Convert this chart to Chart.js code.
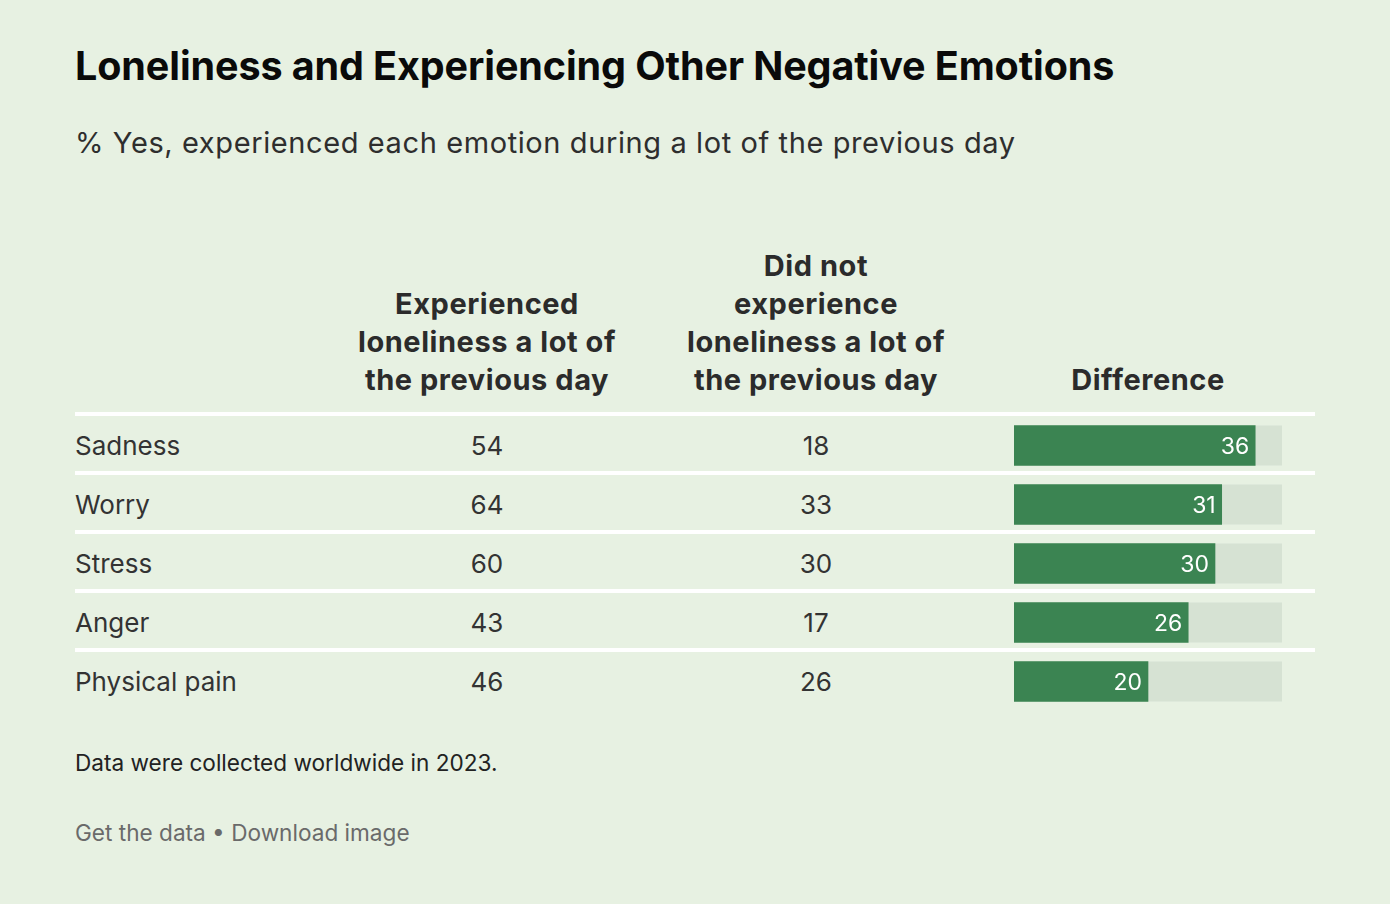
<!DOCTYPE html>
<html>
<head>
<meta charset="utf-8">
<script src="https://cdn.jsdelivr.net/npm/chart.js@4"></script>
<style>
  html, body { margin: 0; padding: 0; }
  body { width: 1390px; height: 904px; background: #e7f1e2; font-family: Inter, "Noto Sans", sans-serif; position: relative; overflow: hidden; color: #2b2b2b; }
  .abs { position: absolute; }
  #title { left: 75px; top: 42px; font-size: 39.5px; font-weight: 700; color: #0a0a0a; letter-spacing: -0.1px; }
  #subtitle { left: 75px; top: 125px; font-size: 29px; color: #2e2e2e; letter-spacing: 0.6px; }
  .head { font-size: 29px; font-weight: 700; line-height: 38px; text-align: center; color: #2b2b2b; width: 320px; bottom: 505px; letter-spacing: 0.55px; }
  .sep { left: 75px; width: 1240px; height: 4px; background: #ffffff; }
  .cell { font-size: 26px; color: #333; line-height: 59px; height: 59px; }
  .num { width: 200px; text-align: center; }
  #note { left: 75px; top: 749px; font-size: 22.6px; color: #222; }
  #links { left: 75px; top: 819px; font-size: 22.6px; color: #6a6a6a; }
  #diffWrap { left: 1014px; top: 416px; width: 268px; height: 295px; }
</style>
</head>
<body>
<div id="title" class="abs">Loneliness and Experiencing Other Negative Emotions</div>
<div id="subtitle" class="abs">% Yes, experienced each emotion during a lot of the previous day</div>

<div class="abs head" style="left:327px;">Experienced<br>loneliness a lot of<br>the previous day</div>
<div class="abs head" style="left:656px;">Did not<br>experience<br>loneliness a lot of<br>the previous day</div>
<div class="abs head" style="left:988px;">Difference</div>

<div id="rows"></div>
<div id="diffWrap" class="abs"><canvas id="diff"></canvas></div>

<div id="note" class="abs">Data were collected worldwide in 2023.</div>
<div id="links" class="abs">Get the data • Download image</div>

<script>
const emotions = ['Sadness', 'Worry', 'Stress', 'Anger', 'Physical pain'];
const lonely = [54, 64, 60, 43, 46];
const notLonely = [18, 33, 30, 17, 26];
const difference = [36, 31, 30, 26, 20];
const diffMax = 40;

// table rows (text columns)
const rows = document.getElementById('rows');
const rowTop = 416, rowH = 59;
emotions.forEach((name, i) => {
  const y = rowTop + i * rowH;
  rows.insertAdjacentHTML('beforeend',
    `<div class="abs sep" style="top:${y - 4}px"></div>` +
    `<div class="abs cell" style="left:75px;top:${y}px">${name}</div>` +
    `<div class="abs cell num" style="left:387px;top:${y}px">${lonely[i]}</div>` +
    `<div class="abs cell num" style="left:716px;top:${y}px">${notLonely[i]}</div>`);
});

// grey track behind each bar + white value inside the bar end
const trackAndLabels = {
  id: 'trackAndLabels',
  beforeDatasetsDraw(chart) {
    const { ctx } = chart;
    const x = chart.scales.x;
    chart.getDatasetMeta(0).data.forEach(bar => {
      ctx.fillStyle = '#d6e2d3';
      ctx.fillRect(x.left, bar.y - bar.height / 2, x.right - x.left, bar.height);
    });
  },
  afterDatasetsDraw(chart) {
    const { ctx } = chart;
    ctx.save();
    ctx.fillStyle = '#ffffff';
    ctx.font = '23px Inter, "Noto Sans", sans-serif';
    ctx.textAlign = 'right';
    ctx.textBaseline = 'middle';
    chart.getDatasetMeta(0).data.forEach((bar, i) => {
      ctx.fillText(difference[i], bar.x - 6, bar.y + 2);
    });
    ctx.restore();
  }
};

new Chart(document.getElementById('diff'), {
  type: 'bar',
  data: {
    labels: emotions,
    datasets: [{
      data: difference,
      backgroundColor: '#3b8452',
      barThickness: 40,
      borderWidth: 0
    }]
  },
  options: {
    indexAxis: 'y',
    responsive: true,
    maintainAspectRatio: false,
    animation: false,
    layout: { padding: 0 },
    scales: {
      x: { display: false, min: 0, max: diffMax },
      y: { display: false }
    },
    plugins: { legend: { display: false }, tooltip: { enabled: false } }
  },
  plugins: [trackAndLabels]
});
</script>
</body>
</html>
